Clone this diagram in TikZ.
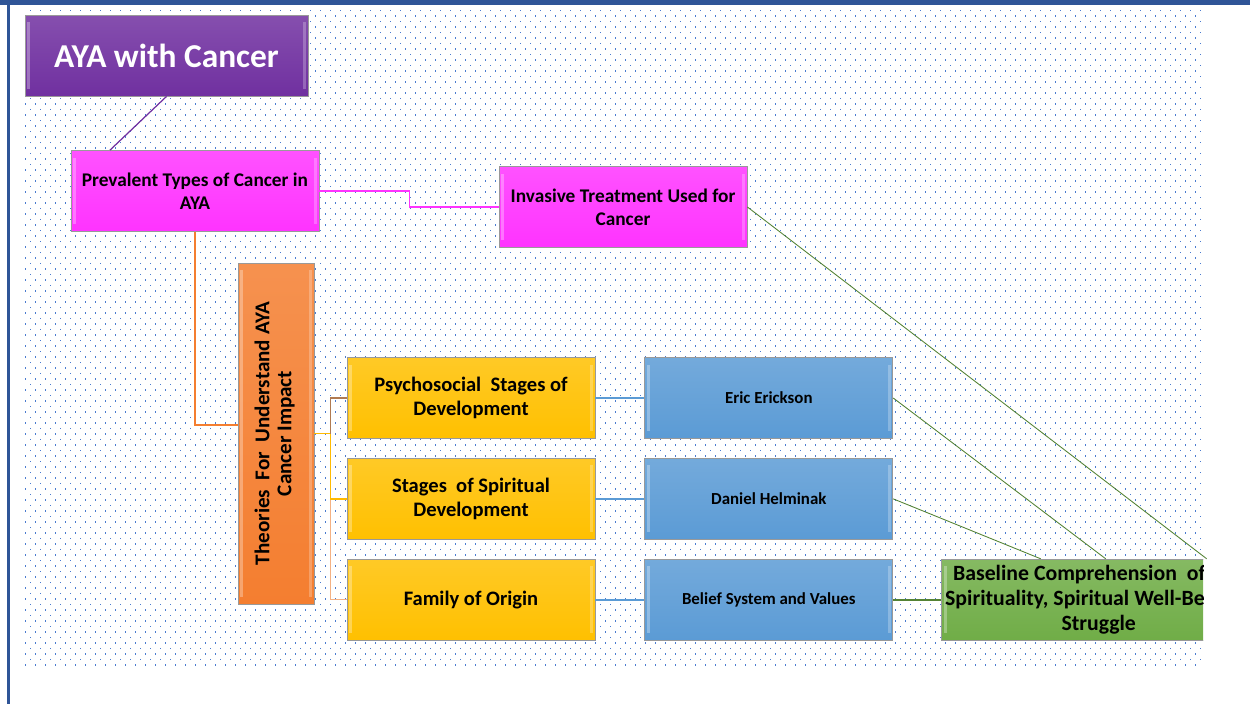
\documentclass[tikz,border=0pt]{standalone}
\usepackage{fontspec}
\setmainfont{Carlito}
\usepackage{graphicx}
\usepackage{tikz}
\usetikzlibrary{positioning,patterns.meta}

\definecolor{framebl}{HTML}{2F5597}
\definecolor{dotbl}{HTML}{4A7BD0}
\definecolor{ayapurple}{HTML}{7030A0}
\definecolor{ayamag}{HTML}{FF33FF}
\definecolor{ayaorange}{HTML}{F47E30}
\definecolor{ayayellow}{HTML}{FFC000}
\definecolor{ayablue}{HTML}{5B9BD5}
\definecolor{ayagreen}{HTML}{70AD47}
\definecolor{ayadkgreen}{HTML}{548235}
\definecolor{forkbrown}{HTML}{B07A50}
\definecolor{forksalmon}{HTML}{F4B183}

\tikzdeclarepattern{
  name=bgdots,
  type=uncolored,
  bottom left={(-.1pt,-.1pt)},
  top right={(5.79pt,6.36pt)},
  tile size={(5.69pt,6.26pt)},
  code={
    \fill (0pt,0pt) rectangle (0.75pt,0.75pt);
    \fill (2.85pt,3.13pt) rectangle (3.6pt,3.88pt);
  }
}

\tikzset{
  ayabox/.style={draw=black!40, line width=0.5pt, align=center,
    top color=#1!85!white, bottom color=#1,
    minimum width=4.96cm, minimum height=1.62cm, inner sep=2pt,
    font=\bfseries\fontsize{11}{13}\selectfont,
    path picture={
      \fill[white, opacity=0.3] ([xshift=1.2pt,yshift=-4pt]path picture bounding box.north west)
        rectangle ([xshift=3pt,yshift=4pt]path picture bounding box.south west);
      \fill[white, opacity=0.25] ([xshift=-1.2pt,yshift=-4pt]path picture bounding box.north east)
        rectangle ([xshift=-3pt,yshift=4pt]path picture bounding box.south east);
    }},
  greenlink/.style={ayadkgreen, line width=0.5pt},
}

\begin{document}
\begin{tikzpicture}[x=0.02cm, y=-0.02cm]
    \useasboundingbox (0,0) rectangle (1250,704);
    \fill[pattern=bgdots, pattern color=dotbl] (25,8) rectangle (1203,668);
    \fill[framebl] (0,0) rectangle (1250,5);
    \fill[framebl] (7,0) rectangle (9.5,704);

    \node (aya) [ayabox=ayapurple, minimum width=5.66cm, text=white,
        font=\bfseries\fontsize{19}{23}\selectfont] at (166.5,55.5) {AYA with Cancer};
    \node (prev) [ayabox=ayamag] at (195,191) {Prevalent Types of Cancer in\\AYA};
    \node (inv) [ayabox=ayamag] at (623,207) {Invasive Treatment Used for\\Cancer};
    \node (theo) [ayabox=ayaorange, minimum width=1.52cm, minimum height=6.82cm,
        font=\bfseries\fontsize{12}{12.5}\selectfont] at (276,433.5)
        {\rotatebox{90}{\begin{tabular}{@{}c@{}}Theories\ \ For\ \ Understand AYA\\Cancer Impact\end{tabular}}};

    \node (psych) [ayabox=ayayellow, font=\bfseries\fontsize{11.7}{14}\selectfont] at (471,398)
        {Psychosocial\ \ Stages of\\Development};
    \node (spirit) [ayabox=ayayellow, font=\bfseries\fontsize{11.7}{14}\selectfont, below=0.38cm of psych]
        {Stages\ \ of Spiritual\\Development};
    \node (family) [ayabox=ayayellow, font=\bfseries\fontsize{11.7}{14}\selectfont, below=0.38cm of spirit]
        {Family of Origin};

    \node (eric) [ayabox=ayablue, font=\bfseries\fontsize{9.6}{12}\selectfont, right=0.98cm of psych] {Eric Erickson};
    \node (daniel) [ayabox=ayablue, font=\bfseries\fontsize{9.6}{12}\selectfont, right=0.98cm of spirit] {Daniel Helminak};
    \node (belief) [ayabox=ayablue, font=\bfseries\fontsize{9.6}{12}\selectfont, right=0.98cm of family] {Belief System and Values};

    \begin{scope}
        \clip (25,5) rectangle (1203,704);
        \node (green) [ayabox=ayagreen, minimum width=6.04cm, font=\bfseries\fontsize{12.4}{14}\selectfont,
            right=0.96cm of belief] {Baseline Comprehension\ \ of AYA\\Spirituality, Spiritual Well-Being \&\\Struggle};
    \end{scope}

    \draw[ayapurple, line width=0.7pt] (aya.south) -- ([xshift=-1.7cm]prev.north);
    \draw[ayamag, line width=0.9pt] (prev.east) -- ++(1.8cm,0) |- (inv.west);
    \draw[ayaorange, line width=0.9pt] (prev.south) |- ([yshift=0.17cm]theo.west);

    \coordinate (fork) at ([xshift=0.32cm]theo.east);
    \draw[forksalmon, line width=0.8pt] (theo.east) -- (fork) |- (family.west);
    \draw[ayayellow!90!orange, line width=0.8pt] (theo.east) -- (fork) |- (spirit.west);
    \draw[forkbrown, line width=0.8pt] (fork) |- (psych.west);

    \draw[ayablue, line width=0.9pt] (psych) -- (eric);
    \draw[ayablue, line width=0.9pt] (spirit) -- (daniel);
    \draw[ayablue, line width=0.9pt] (family) -- (belief);

    \draw[greenlink] (inv.east) -- ([xshift=2.16cm]green.north);
    \draw[greenlink] (eric.east) -- ([xshift=0.14cm]green.north);
    \draw[greenlink] (daniel.east) -- ([xshift=-1.16cm]green.north);
    \draw[greenlink, line width=1.2pt] (belief) -- (green);
\end{tikzpicture}
\end{document}
